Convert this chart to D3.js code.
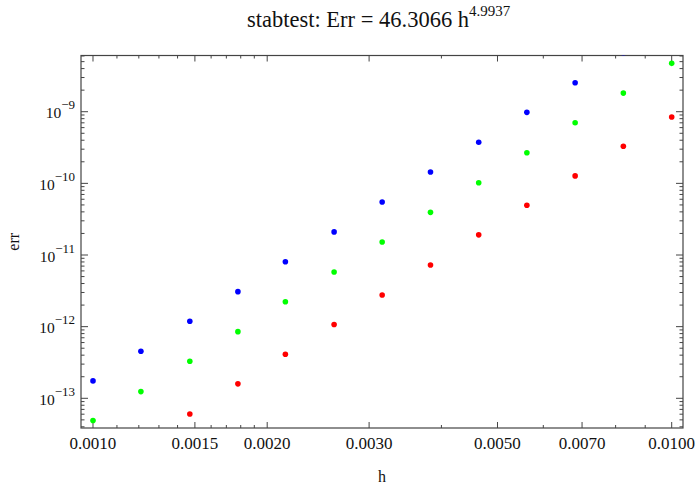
<!DOCTYPE html>
<html>
<head>
<meta charset="utf-8">
<script src="https://cdn.jsdelivr.net/npm/d3@7.9.0/dist/d3.min.js"></script>
<style>
  body { margin: 0; background: #fff; }
  svg text { font-family: "Liberation Serif", "Times New Roman", serif; fill: #111; }
</style>
</head>
<body>
<svg id="chart" width="695" height="487" font-family="Liberation Serif, serif"></svg>
<script>
// step sizes h (12 per decade)
const hValues = [0.00100, 0.00121, 0.00147, 0.00178, 0.00215, 0.00261, 0.00316,
                 0.00383, 0.00464, 0.00562, 0.00681, 0.00825, 0.01000];

// errors; null = off the plot
const errBlue  = [1.75e-13, 4.54e-13, 1.19e-12, 3.08e-12, 8.07e-12, 2.10e-11, 5.50e-11,
                  1.44e-10, 3.74e-10, 9.8e-10, 2.54e-9, 6.6e-9, null];
const errGreen = [4.89e-14, 1.24e-13, 3.29e-13, 8.51e-13, 2.23e-12, 5.79e-12, 1.52e-11,
                  3.94e-11, 1.02e-10, 2.68e-10, 7.03e-10, 1.82e-9, 4.73e-9];
const errRed   = [null, null, 6.05e-14, 1.59e-13, 4.12e-13, 1.07e-12, 2.77e-12,
                  7.26e-12, 1.91e-11, 4.94e-11, 1.27e-10, 3.29e-10, 8.43e-10];

const xMajor = [0.0010, 0.0015, 0.0020, 0.0030, 0.0050, 0.0070, 0.0100];
const xMinor = [0.0011, 0.0012, 0.0013, 0.0014, 0.0016, 0.0017, 0.0018, 0.0019,
                0.004, 0.006, 0.008, 0.009];
const yExponents = [-13, -12, -11, -10, -9];

const series = [
  { name: 'blue', color: '#0000ff', values: errBlue },
  { name: 'green', color: '#00ff00', values: errGreen },
  { name: 'red', color: '#ff0000', values: errRed }
];

const svg = d3.select('#chart');
const pLeft = 81, pRight = 683, pTop = 55.5, pBottom = 428;

let x = d3.scaleLog().domain([0.0009534, 0.01046]).range([pLeft, pRight]);
let y = d3.scaleLog().domain([3.85e-14, 6.09e-9]).range([pBottom, pTop]);

// minor y ticks: 2..9 x 10^n
let yMinor = [];
for (let e = -14; e <= -9; e++) {
  for (let m = 2; m <= 9; m++) {
    let v = m * Math.pow(10, e);
    if (v > y.domain()[0] && v < y.domain()[1]) yMinor.push(v);
  }
}

svg.append('clipPath').attr('id', 'plotclip')
  .append('rect').attr('x', pLeft).attr('y', pTop)
  .attr('width', pRight - pLeft).attr('height', pBottom - pTop);

// frame
svg.append('rect')
  .attr('x', pLeft).attr('y', pTop)
  .attr('width', pRight - pLeft).attr('height', pBottom - pTop)
  .attr('fill', 'none').attr('stroke', '#444').attr('stroke-width', 1.2);

let ticks = svg.append('g').attr('stroke', '#444').attr('stroke-width', 1);

function xTicks(vals, len) {
  vals.forEach(v => {
    ticks.append('line').attr('x1', x(v)).attr('x2', x(v)).attr('y1', pBottom).attr('y2', pBottom - len);
    ticks.append('line').attr('x1', x(v)).attr('x2', x(v)).attr('y1', pTop).attr('y2', pTop + len);
  });
}
function yTicks(vals, len) {
  vals.forEach(v => {
    ticks.append('line').attr('y1', y(v)).attr('y2', y(v)).attr('x1', pLeft).attr('x2', pLeft + len);
    ticks.append('line').attr('y1', y(v)).attr('y2', y(v)).attr('x1', pRight).attr('x2', pRight - len);
  });
}
xTicks(xMajor, 6);
xTicks(xMinor, 3);
yTicks(yExponents.map(e => Math.pow(10, e)), 7);
yTicks(yMinor, 3.5);

// x tick labels
svg.append('g').selectAll('text').data(xMajor).join('text')
  .attr('x', d => x(d)).attr('y', pBottom + 21)
  .attr('text-anchor', 'middle').attr('font-size', 17)
  .text(d => d3.format('.4f')(d));

// y tick labels 10^n
let yl = svg.append('g').selectAll('text').data(yExponents).join('text')
  .attr('x', pLeft - 6).attr('y', d => y(Math.pow(10, d)) + 6.5)
  .attr('text-anchor', 'end').attr('font-size', 15.5);
yl.append('tspan').text('10');
yl.append('tspan').attr('dy', -9).attr('font-size', 13).text(d => '\u2212' + Math.abs(d));

// points
let plot = svg.append('g').attr('clip-path', 'url(#plotclip)');
series.forEach(s => {
  let pts = hValues.map((h, i) => ({ h: h, v: s.values[i] })).filter(d => d.v != null);
  plot.selectAll('circle.' + s.name).data(pts).join('circle')
    .attr('class', s.name)
    .attr('cx', d => x(d.h)).attr('cy', d => y(d.v))
    .attr('r', 2.8).attr('fill', s.color);
});

// axis labels
svg.append('text').attr('x', (pLeft + pRight) / 2).attr('y', 482)
  .attr('text-anchor', 'middle').attr('font-size', 16).text('h');
svg.append('text')
  .attr('transform', `translate(19,${(pTop + pBottom) / 2}) rotate(-90)`)
  .attr('text-anchor', 'middle').attr('font-size', 16).text('err');

// title
let title = svg.append('text').attr('x', 247).attr('y', 27)
  .attr('text-anchor', 'start').attr('font-size', 22.5);
title.append('tspan').text('stabtest: Err = 46.3066 h');
title.append('tspan').attr('dy', -11).attr('font-size', 15).text('4.9937');
</script>
</body>
</html>
